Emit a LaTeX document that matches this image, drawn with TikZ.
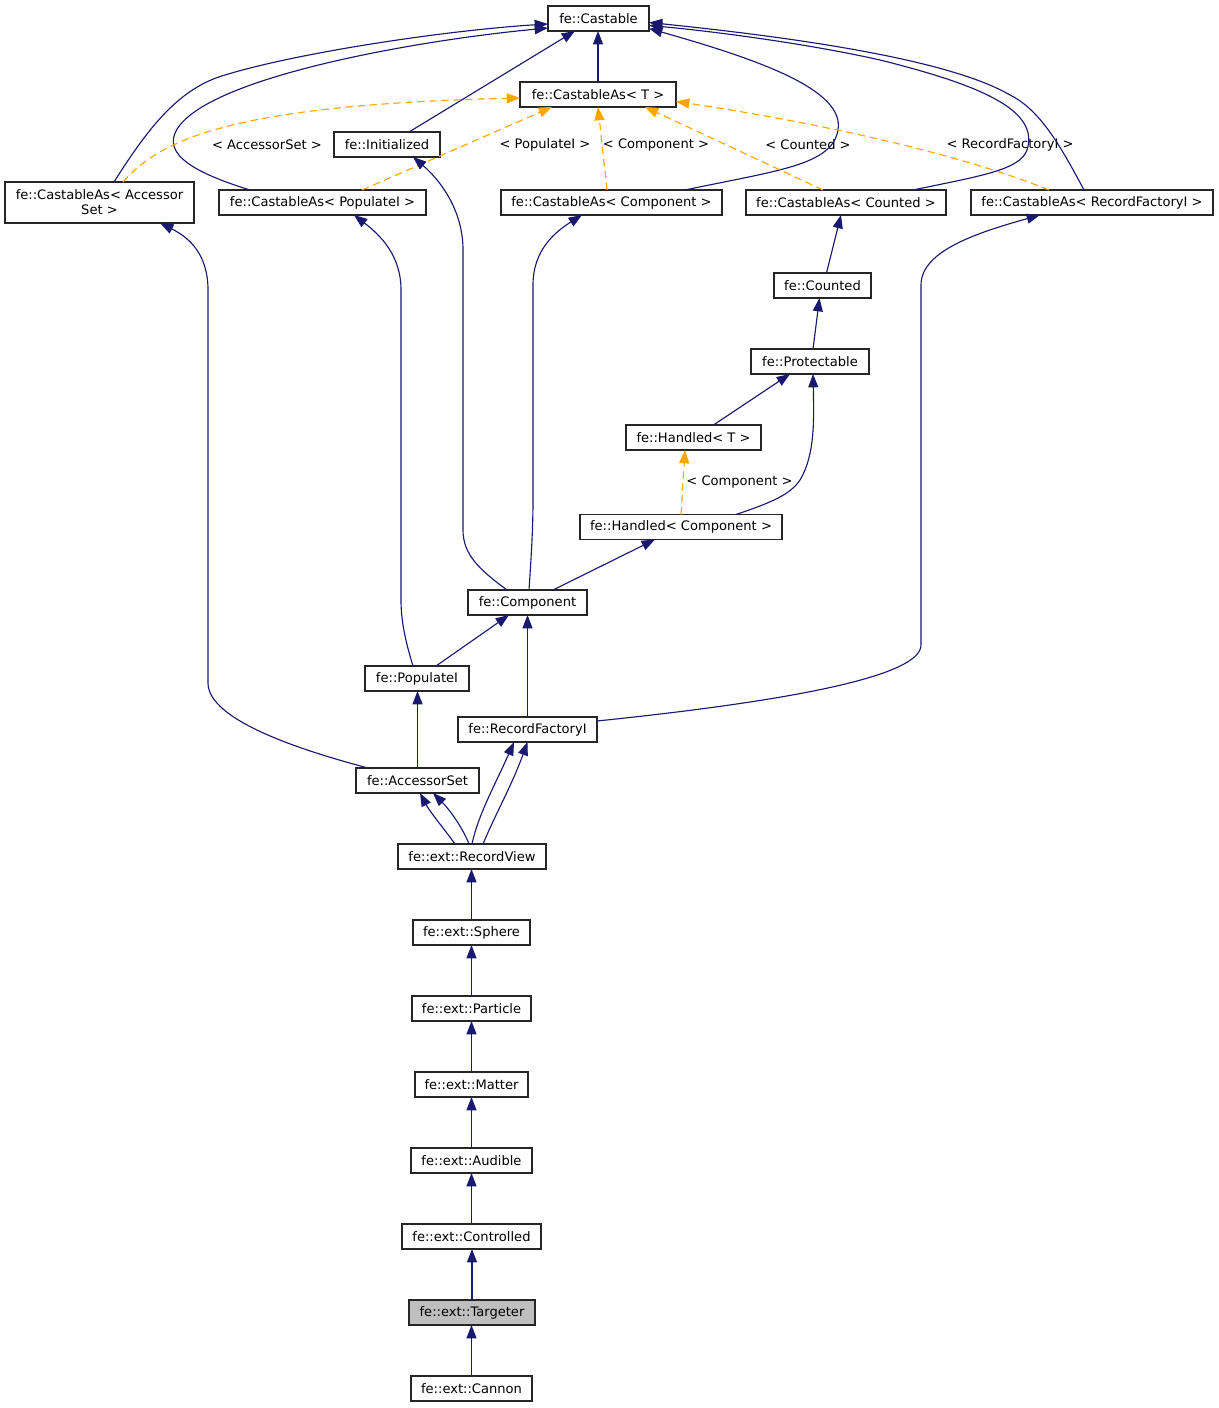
\documentclass[tikz,border=0pt]{standalone}
\usepackage{fontspec}
\setmainfont{DejaVu Sans}
\usetikzlibrary{arrows.meta,calc}
\definecolor{navyedge}{HTML}{191970}
\definecolor{orangeedge}{HTML}{FFA500}
\definecolor{selfill}{HTML}{BFBFBF}
\begin{document}
\begin{tikzpicture}[x=0.75pt,y=-0.75pt,
  box/.style={draw=black!85, line width=0.9pt, inner sep=0pt, outer sep=0pt,
    minimum height=18.75pt, fill=white, align=center,
    font=\fontsize{9.8}{11.3}\selectfont},
  bw/.style={minimum width=#1*0.75pt},
  tip/.style={-{Triangle[length=10pt,width=7.5pt]}},
  inh/.style={color=navyedge, line width=0.85pt, tip},
  tmpl/.style={color=orangeedge, line width=0.85pt, dash pattern=on 5.5pt off 3.5pt, tip},
  lbl/.style={inner sep=0pt, font=\fontsize{9.8}{11.3}\selectfont}]
\useasboundingbox (0,0) rectangle (1218,1408);

% nodes
\node[box,bw=101] (castable) at (598.5,18.5) {fe::Castable};
\node[box,bw=156] (cT) at (598,94.5) {fe::CastableAs{<} T {>}};
\node[box,bw=106] (init) at (387,144.5) {fe::Initialized};
\node[box,bw=189,minimum height=30.75pt] (cAS) at (99.5,202.5) {fe::CastableAs{<} Accessor\\Set {>}};
\node[box,bw=207] (cPop) at (322.5,202.5) {fe::CastableAs{<} PopulateI {>}};
\node[box,bw=221] (cComp) at (611.5,202.5) {fe::CastableAs{<} Component {>}};
\node[box,bw=200] (cCnt) at (846,202.5) {fe::CastableAs{<} Counted {>}};
\node[box,bw=242] (cRF) at (1092,202.5) {fe::CastableAs{<} RecordFactoryI {>}};
\node[box,bw=97] (counted) at (822.5,285.5) {fe::Counted};
\node[box,bw=118] (protect) at (810,361.5) {fe::Protectable};
\node[box,bw=135] (handT) at (693.5,437.5) {fe::Handled{<} T {>}};
\node[box,bw=202] (handC) at (681,527) {fe::Handled{<} Component {>}};
\node[box,bw=119] (comp) at (527.5,602.5) {fe::Component};
\node[box,bw=104] (popI) at (417,678.5) {fe::PopulateI};
\node[box,bw=139] (recF) at (527.5,729.5) {fe::RecordFactoryI};
\node[box,bw=123] (accS) at (417.5,780.5) {fe::AccessorSet};
\node[box,bw=148] (recV) at (472,856.5) {fe::ext::RecordView};
\node[box,bw=117] (sphere) at (471.5,932.5) {fe::ext::Sphere};
\node[box,bw=119] (particle) at (471.5,1008.5) {fe::ext::Particle};
\node[box,bw=113] (matter) at (471.5,1084.5) {fe::ext::Matter};
\node[box,bw=121] (audible) at (471.5,1160.5) {fe::ext::Audible};
\node[box,bw=139] (controlled) at (471.5,1236.5) {fe::ext::Controlled};
\node[box,bw=126,fill=selfill] (targeter) at (472,1312.5) {fe::ext::Targeter};
\node[box,bw=121] (cannon) at (471.5,1388.5) {fe::ext::Cannon};

% labels
\node[lbl] (lAS) at (267,145) {{<} AccessorSet {>}};
\node[lbl] (lPop) at (545,145) {{<} PopulateI {>}};
\node[lbl] (lComp) at (656,145) {{<} Component {>}};
\node[lbl] (lCnt) at (808,145) {{<} Counted {>}};
\node[lbl] (lRF) at (1010,145) {{<} RecordFactoryI {>}};
\node[lbl] (lHC) at (739.5,482) {{<} Component {>}};

% inheritance edges to Castable
\draw[inh] (cT.north) -- (cT.north |- castable.south);
\draw[inh] ($(init.north)+(22,0)$) -- ($(castable.south)+(-23.5,0)$);
\draw[inh] ($(cAS.north)+(14.5,0)$) .. controls (150,125) and (180,88) .. (225,75)
  .. controls (300,52) and (450,30) .. ($(castable.west)+(0,5.5)$);
\draw[inh] ($(cPop.north)+(-72.5,0)$) .. controls (185,170) and (160,150) .. (180,125)
  .. controls (220,75) and (420,40) .. ($(castable.west)+(0,9.5)$);
\draw[inh] ($(cComp.north)+(73.5,0)$) .. controls (780,170) and (832,165) .. (838,130)
  .. controls (845,90) and (760,60) .. ($(castable.east)+(0,10)$);
\draw[inh] ($(cCnt.north)+(67,0)$) .. controls (980,176) and (1020,170) .. (1027,150)
  .. controls (1040,110) and (980,85) .. (880,60)
  .. controls (800,42) and (700,30) .. ($(castable.east)+(0,7)$);
\draw[inh] ($(cRF.north)+(-8,0)$) .. controls (1060,145) and (1040,110) .. (1010,95)
  .. controls (950,60) and (800,38) .. ($(castable.east)+(0,4)$);

% template instantiations
\draw[tmpl] ($(cAS.north)+(23.5,0)$) .. controls (160,140) and (230,105) .. ($(cT.west)+(0,3.5)$);
\draw[tmpl] ($(cPop.north)+(39.5,0)$) -- ($(cT.south)+(-46,0)$);
\draw[tmpl] ($(cComp.north)+(-4.5,0)$) -- (cT.south);
\draw[tmpl] ($(cCnt.north)+(-23,0)$) -- ($(cT.south)+(47,0)$);
\draw[tmpl] ($(cRF.north)+(-43,0)$) .. controls (950,150) and (800,120) .. ($(cT.east)+(0,7)$);
\draw[tmpl] (handC.north) -- ($(handT.south)+(-8.5,0)$);

% middle part
\draw[inh] ($(counted.north)+(4,0)$) -- ($(cCnt.south)+(-5,0)$);
\draw[inh] ($(protect.north)+(3,0)$) -- ($(counted.south)+(-3,0)$);
\draw[inh] ($(handT.north)+(20,0)$) -- ($(protect.south)+(-20,0)$);
\draw[inh] ($(handC.north)+(55,0)$) .. controls (770,503) and (790,495) .. (800,480)
  .. controls (815,455) and (814,420) .. ($(protect.south)+(3,0)$);
\draw[inh] ($(comp.north)+(25.5,0)$) -- ($(handC.south)+(-26,0)$);
\draw[inh] ($(comp.north)+(1.5,0)$) .. controls (531,560) and (533,530) .. (533,500)
  -- (533,285) .. controls (533,250) and (555,232) .. ($(cComp.south)+(-29.5,0)$);
\draw[inh] ($(comp.north)+(-20.5,0)$) .. controls (480,570) and (463,555) .. (463,530)
  -- (463,250) .. controls (463,210) and (440,180) .. ($(init.south)+(26,0)$);
\draw[inh] ($(popI.north)+(19,0)$) -- ($(comp.south)+(-18.5,0)$);
\draw[inh] ($(popI.north)+(-4,0)$) .. controls (405,640) and (401,620) .. (401,600)
  -- (401,290) .. controls (401,255) and (380,235) .. ($(cPop.south)+(31.5,0)$);
\draw[inh] (recF.north) -- (comp.south);
\draw[inh] ($(recF.east)+(0,-8.5)$) .. controls (800,700) and (921,675) .. (921,645)
  -- (921,285) .. controls (921,250) and (980,232) .. ($(cRF.south)+(-52,0)$);
\draw[inh] (accS.north) -- (accS.north |- popI.south);
\draw[inh] ($(accS.north)+(-49.5,0)$) .. controls (300,750) and (208,720) .. (208,683)
  -- (208,290) .. controls (208,255) and (190,238) .. ($(cAS.south)+(60.5,0)$);
\draw[inh] ($(recV.north)+(-17,0)$) .. controls (445,830) and (430,812) .. ($(accS.south)+(2.5,0)$);
\draw[inh] ($(recV.north)+(-3,0)$) .. controls (462,826) and (448,808) .. ($(accS.south)+(15.5,0)$);
\draw[inh] (recV.north) .. controls (478,815) and (495,785) .. ($(recF.south)+(-13.5,0)$);
\draw[inh] ($(recV.north)+(11,0)$) .. controls (495,815) and (512,785) .. (recF.south);

% chain
\draw[inh] (sphere.north) -- (sphere.north |- recV.south);
\draw[inh] (particle.north) -- (sphere.south);
\draw[inh] (matter.north) -- (particle.south);
\draw[inh] (audible.north) -- (matter.south);
\draw[inh] (controlled.north) -- (audible.south);
\draw[inh] (targeter.north) -- (targeter.north |- controlled.south);
\draw[inh] (cannon.north) -- (cannon.north |- targeter.south);
\end{tikzpicture}
\end{document}
